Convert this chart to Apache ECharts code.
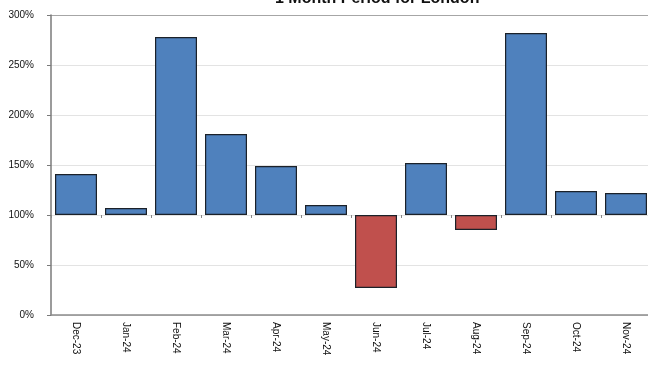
<!DOCTYPE html>
<html>
<head>
<meta charset="utf-8">
<script src="https://cdn.jsdelivr.net/npm/echarts@6/dist/echarts.min.js"></script>
<style>
  html, body { margin: 0; padding: 0; background: #fff; }
  #chart { width: 648px; height: 374px; }
</style>
</head>
<body>
<div id="chart"></div>
<script>
// Monthly index values (percent), bars drawn relative to the 100% baseline
const months = ['Dec-23', 'Jan-24', 'Feb-24', 'Mar-24', 'Apr-24', 'May-24',
                'Jun-24', 'Jul-24', 'Aug-24', 'Sep-24', 'Oct-24', 'Nov-24'];
const values = [141, 107, 278, 181, 149, 110, 27, 152, 85, 282, 124, 122];
const baseline = 100;
const yTicks = [0, 50, 100, 150, 200, 250, 300];

const UP = '#4F81BD';
const DOWN = '#C0504D';

// Invisible base up to min(value, baseline), visible segment covers the difference
const baseData = values.map(v => Math.min(v, baseline));
const deltaData = values.map(v => ({
  value: Math.abs(v - baseline),
  itemStyle: { color: v >= baseline ? UP : DOWN }
}));

const chart = echarts.init(document.getElementById('chart'), null, { renderer: 'canvas' });
chart.setOption({
  animation: false,
  title: {
    text: '1 Month Period for London',
    left: 270,
    top: -14,
    textStyle: { fontFamily: 'Liberation Sans, Arial', fontSize: 16, fontWeight: 'bold', color: '#111' }
  },
  grid: { left: 51, width: 600, top: 15, height: 300, containLabel: false, outerBoundsMode: 'none' },
  xAxis: [
    {
      type: 'category',
      data: months,
      position: 'bottom',
      axisLine: { show: true, lineStyle: { color: '#8c8c8c', width: 1.5 } },
      axisTick: { show: false },
      axisLabel: {
        interval: 0,
        rotate: -90,
        margin: 7,
        fontFamily: 'Liberation Sans, Arial',
        fontSize: 10,
        color: '#111'
      }
    },
    {
      // tick marks along the 100% baseline
      type: 'category',
      data: months,
      position: 'bottom',
      offset: -100,
      axisLine: { show: false },
      axisTick: { show: true, interval: 0, length: 3, lineStyle: { color: '#888' } },
      axisLabel: { show: false, interval: 0 }
    }
  ],
  yAxis: {
    type: 'value',
    min: 0,
    max: 300,
    interval: 50,
    axisLine: { show: true, lineStyle: { color: '#7a7a7a', width: 1.5 } },
    axisTick: { show: true, length: 4, lineStyle: { color: '#7a7a7a' } },
    splitLine: {
      show: true,
      lineStyle: { color: ['#d9d9d9', '#e3e3e3', '#e3e3e3', '#e3e3e3', '#e3e3e3', '#e3e3e3', '#a6a6a6'], width: 1 }
    },
    axisLabel: {
      formatter: v => yTicks.includes(v) ? v + '%' : '',
      margin: 17,
      fontFamily: 'Liberation Sans, Arial',
      fontSize: 10,
      color: '#111'
    }
  },
  series: [
    {
      type: 'bar',
      stack: 'total',
      data: baseData,
      barCategoryGap: '16%',
      itemStyle: { color: 'transparent' },
      emphasis: { disabled: true },
      silent: true
    },
    {
      type: 'bar',
      stack: 'total',
      data: deltaData,
      barCategoryGap: '16%',
      itemStyle: { borderColor: '#1b2129', borderWidth: 1.2 }
    }
  ]
});
</script>
</body>
</html>
